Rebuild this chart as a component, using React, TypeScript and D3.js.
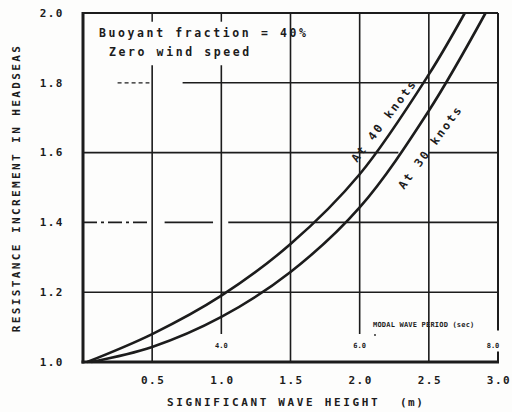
import React from "react";
import * as d3 from "d3";

const xTicks = [0.5, 1.0, 1.5, 2.0, 2.5, 3.0];
const xTickLabels = ["0.5", "1.0", "1.5", "2.0", "2.5", "3.0"];
const yTicks = [1.0, 1.2, 1.4, 1.6, 1.8, 2.0];
const yTickLabels = ["1.0", "1.2", "1.4", "1.6", "1.8", "2.0"];

// At 40 knots
const wave40 = [0.03, 0.5, 1.0, 1.5, 2.0, 2.5, 2.76];
const resist40 = [1.0, 1.08, 1.19, 1.338, 1.538, 1.824, 2.0];
// At 30 knots
const wave30 = [0.06, 0.5, 1.0, 1.5, 2.0, 2.5, 2.91];
const resist30 = [1.0, 1.043, 1.129, 1.258, 1.443, 1.72, 2.0];

const periodWave = [1.0, 2.0, 3.0];
const periodLabels = ["4.0", "6.0", "8.0"];

const FONT = "'DejaVu Sans Mono', 'Liberation Mono', monospace";
const INK = "#1c1c1c";

export default function App() {
  const x = d3.scaleLinear().domain([0, 3]).range([83, 498]);
  const y = d3.scaleLinear().domain([1, 2]).range([362, 13]);

  const line = d3
    .line<[number, number]>()
    .x((d) => x(d[0]))
    .y((d) => y(d[1]))
    .curve(d3.curveCatmullRom.alpha(0.5));

  const d40 = line(wave40.map((w, i) => [w, resist40[i]] as [number, number])) || "";
  const d30 = line(wave30.map((w, i) => [w, resist30[i]] as [number, number])) || "";

  const gridW = 1.6;

  const vTop = (v: number) => (v <= 1.0 ? 1.85 : 2.0);
  const vBottom = (v: number) => (v === 1.0 || v === 2.0 ? 1.08 : 1.0);

  const textStyle: React.CSSProperties = {
    fontFamily: FONT,
    fontWeight: 700,
    fill: INK,
  };

  return (
    <svg
      width={512}
      height={412}
      style={{ position: "absolute", left: 0, top: 0, background: "#fff" }}
    >
      <rect x={0} y={0} width={512} height={412} fill="#fdfdfc" />
      {/* vertical grid */}
      {xTicks
        .filter((v) => v < 3)
        .map((v) => (
          <line
            key={"v" + v}
            x1={x(v)}
            x2={x(v)}
            y1={y(vTop(v))}
            y2={y(vBottom(v))}
            stroke={INK}
            strokeWidth={gridW}
          />
        ))}
      {[0.5, 1.0].map((v) => (
        <line key={"tt" + v} x1={x(v)} x2={x(v)} y1={y(2)} y2={y(1.975)} stroke={INK} strokeWidth={1.5} />
      ))}
      {/* horizontal grid */}
      <line x1={x(0)} x2={x(3)} y1={y(1.2)} y2={y(1.2)} stroke={INK} strokeWidth={gridW} />
      <line x1={x(0)} x2={x(0.48)} y1={y(1.4)} y2={y(1.4)} stroke={INK} strokeWidth={gridW} strokeDasharray="14,4,3,4" />
      <line x1={x(0.59)} x2={x(0.94)} y1={y(1.4)} y2={y(1.4)} stroke={INK} strokeWidth={gridW} />
      <line x1={x(1.05)} x2={x(3)} y1={y(1.4)} y2={y(1.4)} stroke={INK} strokeWidth={gridW} />
      <line x1={x(0)} x2={x(2.28)} y1={y(1.6)} y2={y(1.6)} stroke={INK} strokeWidth={gridW} />
      <line x1={x(2.5)} x2={x(3)} y1={y(1.6)} y2={y(1.6)} stroke={INK} strokeWidth={gridW} />
      <line x1={x(0.25)} x2={x(0.48)} y1={y(1.8)} y2={y(1.8)} stroke={INK} strokeWidth={1.2} strokeDasharray="4,3" />
      <line x1={x(0.72)} x2={x(3)} y1={y(1.8)} y2={y(1.8)} stroke={INK} strokeWidth={gridW} />

      {/* frame */}
      <line x1={x(0)} x2={x(3)} y1={y(2)} y2={y(2)} stroke={INK} strokeWidth={2} />
      <line x1={x(3)} x2={x(3)} y1={y(2)} y2={y(1.09)} stroke={INK} strokeWidth={2} />
      <line x1={x(3)} x2={x(3)} y1={y(1.03)} y2={y(1)} stroke={INK} strokeWidth={2} />
      <line x1={x(0)} x2={x(0)} y1={y(2) - 1} y2={y(1) + 1.5} stroke={INK} strokeWidth={3} />
      <line x1={x(0) - 1.5} x2={x(3) + 1} y1={y(1)} y2={y(1)} stroke={INK} strokeWidth={3} />

      {/* curves */}
      <path d={d40} fill="none" stroke={INK} strokeWidth={2.6} />
      <path d={d30} fill="none" stroke={INK} strokeWidth={2.6} />

      {/* y tick labels */}
      {yTicks.map((v, i) => (
        <text
          key={"yl" + v}
          x={64}
          y={y(v)}
          dy="0.35em"
          textAnchor="end"
          fontSize={11}
          letterSpacing={1.5}
          style={textStyle}
        >
          {yTickLabels[i]}
        </text>
      ))}
      {/* x tick labels */}
      {xTicks.map((v, i) => (
        <text
          key={"xl" + v}
          x={x(v) + 1}
          y={384}
          textAnchor="middle"
          fontSize={11}
          letterSpacing={1.5}
          style={textStyle}
        >
          {xTickLabels[i]}
        </text>
      ))}
      {/* modal period labels */}
      {periodWave.map((v, i) => (
        <text
          key={"pl" + v}
          x={x(v) - (v === 3 ? 5 : 0)}
          y={348}
          textAnchor="middle"
          fontSize={7}
          style={textStyle}
        >
          {periodLabels[i]}
        </text>
      ))}
      <text x={373} y={327} fontSize={7} letterSpacing={0.2} style={textStyle}>
        MODAL WAVE PERIOD (sec)
      </text>
      <circle cx={375} cy={335} r={0.9} fill={INK} />

      {/* annotation */}
      <text x={99} y={37} fontSize={11.5} letterSpacing={2.6} style={textStyle}>
        Buoyant fraction = 40%
      </text>
      <text x={109} y={56} fontSize={11.5} letterSpacing={2.6} style={textStyle}>
        Zero wind speed
      </text>

      {/* curve labels */}
      <text
        transform={`translate(357,163) rotate(-53)`}
        fontSize={11.5}
        letterSpacing={2.2}
        style={textStyle}
      >
        At 40 knots
      </text>
      <text
        transform={`translate(404,190) rotate(-54)`}
        fontSize={11.5}
        letterSpacing={2.2}
        style={textStyle}
      >
        At 30 knots
      </text>

      {/* axis titles */}
      <text x={167} y={406} fontSize={11} letterSpacing={2.65} style={textStyle}>
        SIGNIFICANT WAVE HEIGHT
      </text>
      <text x={400} y={406} fontSize={11} letterSpacing={1.5} style={textStyle}>
        (m)
      </text>
      <text
        transform={`translate(20,188) rotate(-90)`}
        textAnchor="middle"
        fontSize={11}
        letterSpacing={2.4}
        style={textStyle}
      >
        RESISTANCE INCREMENT IN HEADSEAS
      </text>
    </svg>
  );
}
